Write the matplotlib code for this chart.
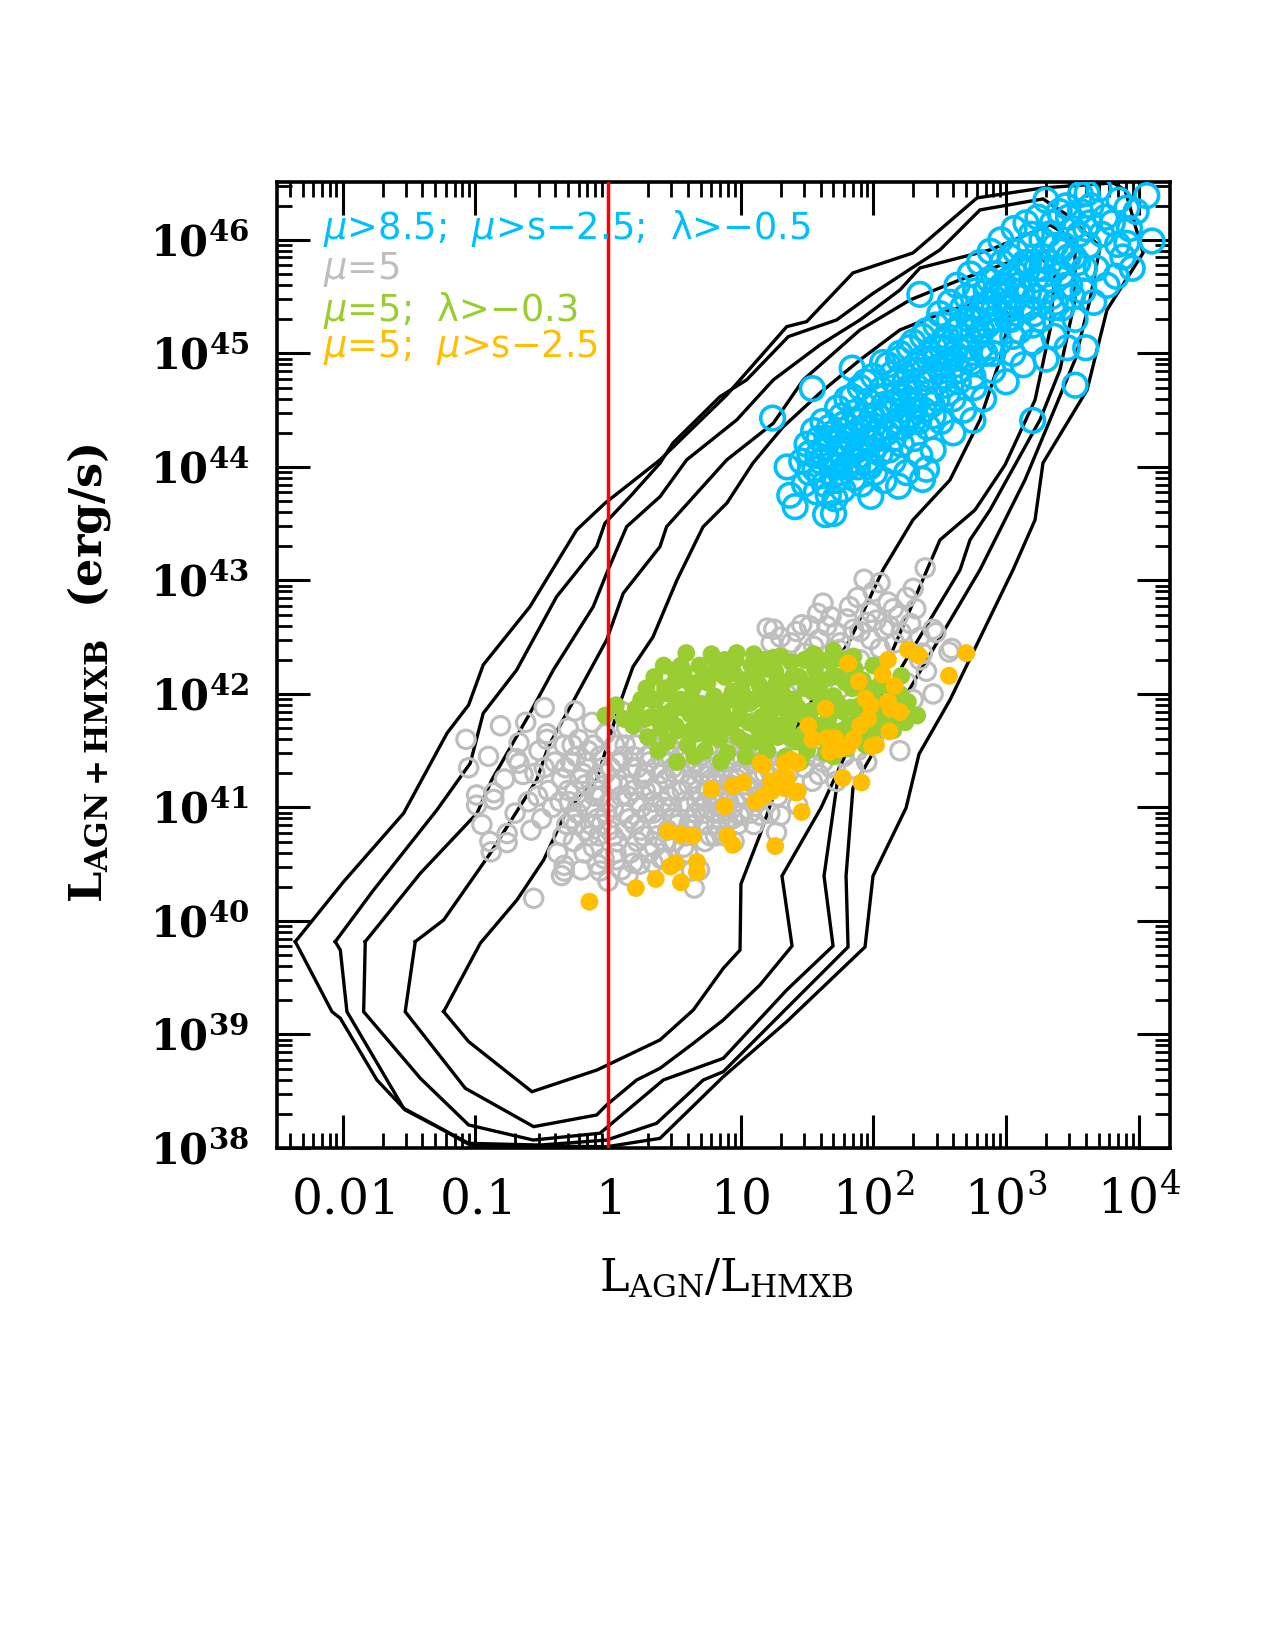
import numpy as np
import matplotlib
matplotlib.use('Agg')
import matplotlib.pyplot as plt
from matplotlib.ticker import FixedLocator, FixedFormatter, LogLocator, NullFormatter

plt.rcParams['mathtext.fontset'] = 'custom'
plt.rcParams['mathtext.rm'] = 'DejaVu Serif'
plt.rcParams['mathtext.it'] = 'DejaVu Sans:italic'
plt.rcParams['mathtext.bf'] = 'DejaVu Serif:bold'
plt.rcParams['mathtext.sf'] = 'DejaVu Sans'

# ---------------- data (log10 values) ----------------
C1 = [(-2.356,39.818),(-1.992,40.346),(-1.540,40.949),(-1.213,41.654),(-1.050,41.903),(-0.940,42.256),
      (-0.588,42.769),(-0.236,43.445),(-0.023,43.680),(0.392,44.062),(0.895,44.634),(1.347,45.236),
      (1.497,45.280),(1.846,45.709),(2.298,45.885),(2.781,46.370),(3.278,46.458),(3.806,46.502),
      (3.896,46.441),(4.032,45.885),(3.760,45.383),(3.610,44.678),(3.278,44.035),(3.218,43.533),
      (3.052,43.093),(2.577,41.947),(2.344,41.471),(2.246,40.996),(1.997,40.396),(1.937,39.771),
      (1.347,39.113),(0.869,38.628),(0.392,38.085),(-0.010,38.011),(-1.038,38.026),(-1.289,38.188),
      (-1.528,38.335),(-1.741,38.599),(-2.017,39.143),(-2.080,39.201)]
C2 = [(-2.055,39.818),(-1.766,40.273),(-1.289,40.978),(-1.038,41.389),(-0.940,41.830),(-0.688,42.211),
      (-0.387,42.857),(-0.085,43.298),(-0.023,43.504),(0.166,43.738),(0.392,44.033),(0.490,44.211),
      (0.844,44.619),(1.045,44.767),(1.359,45.148),(1.723,45.295),(1.999,45.530),(2.326,45.780),
      (2.502,45.912),(2.803,46.264),(3.278,46.361),(3.459,46.220),(3.708,45.938),(3.632,45.471),
      (3.519,44.943),(3.331,44.414),(3.142,43.885),(2.954,43.445),(2.803,43.093),(2.313,42.123),
      (1.846,41.172),(1.794,40.396),(1.809,39.771),(1.321,39.201),(0.869,38.672),(0.718,38.599),
      (0.367,38.218),(-0.010,38.070),(-0.512,38.026),(-1.050,38.041),(-1.540,38.350),(-1.967,39.201),
      (-2.017,39.744)]
C3 = [(-1.829,39.818),(-1.414,40.420),(-0.987,40.949),(-0.876,41.242),(-0.588,41.830),(-0.412,42.211),
      (-0.111,42.769),(-0.010,43.063),(0.141,43.474),(0.392,43.738),(0.593,44.062),(0.970,44.414),
      (1.246,44.767),(1.598,45.075),(1.899,45.295),(2.200,45.559),(2.351,45.753),(2.879,45.912),
      (3.331,46.132),(3.519,46.000),(3.519,45.471),(3.406,44.855),(3.255,44.414),(2.879,43.621),
      (2.728,43.357),(2.653,43.093),(2.200,42.211),(1.756,41.454),(1.628,40.396),(1.696,39.780),
      (1.347,39.392),(0.869,38.790),(0.417,38.599),(-0.060,38.130),(-0.563,38.070),(-1.050,38.203),
      (-1.414,38.614),(-1.841,39.201)]
C4 = [(-1.452,39.818),(-1.238,40.009),(-0.887,40.596),(-0.537,41.242),(-0.450,41.536),(-0.284,41.888),
      (-0.010,42.476),(0.115,42.887),(0.392,43.298),(0.442,43.474),(0.895,44.062),(1.246,44.385),
      (1.472,44.767),(1.899,45.207),(2.276,45.471),(2.653,45.648),(3.029,45.806),(3.255,45.868),
      (3.368,45.692),(3.331,45.207),(3.218,44.590),(2.992,44.018),(2.766,43.621),(2.502,43.357),
      (2.404,43.093),(2.050,42.123),(1.605,40.996),(1.311,40.396),(1.387,39.780),(1.145,39.436),
      (0.869,39.128),(0.643,38.922),(0.392,38.702),(0.216,38.599),(-0.010,38.379),(-0.085,38.291),
      (-0.560,38.188),(-1.075,38.526),(-1.528,39.201)]
C5 = [(-1.238,39.201),(-0.962,39.804),(-0.686,40.185),(-0.485,40.537),(-0.309,40.978),(-0.085,41.242),
      (0.090,41.918),(0.188,42.238),(0.339,42.502),(0.520,43.004),(0.716,43.471),(0.897,43.683),
      (1.093,44.035),(1.319,44.352),(1.598,44.652),(1.899,44.943),(2.200,45.207),(2.577,45.383),
      (2.879,45.471),(3.029,45.339),(2.954,44.943),(2.803,44.414),(2.577,43.885),(2.298,43.533),
      (2.072,43.093),(1.824,42.476),(1.447,41.771),(1.145,40.758),(1.002,40.326),(0.995,39.744),
      (0.869,39.583),(0.643,39.216),(0.392,38.952),(-0.083,38.687),(-0.573,38.496),(-1.050,38.937)]

blue_pts = [(1.24,44.43),(1.35,44.00),(1.37,43.75),(1.41,43.65),(1.54,44.69),(1.64,43.58),(1.70,43.59),
    (1.98,43.74),(2.19,43.83),(2.37,43.89),(2.40,43.98),(2.75,44.41),(3.20,44.41),(3.52,44.72),(2.35,45.52),
    (1.84,44.87),(3.56,46.40),(3.61,46.41),(3.83,45.68),(3.84,45.96),(3.91,45.97),(3.91,46.28),(4.06,46.39),
    (4.10,45.99),(3.70,46.45),(3.45,46.30),(3.30,46.35),(3.75,46.20),(3.60,46.10),(3.95,45.75),
    (1.46,44.05),(1.48,43.85),(1.50,44.20),(1.52,43.95),(1.55,44.32),(1.57,43.78),(1.58,44.10),(1.60,43.92),
    (1.62,44.40),(1.64,44.18),(1.66,43.75),(1.68,44.02),(1.70,44.30),(1.72,43.88),(1.73,44.52),(1.75,44.12),
    (1.77,43.80),(1.78,44.38),(1.80,44.60),(1.81,44.00),(1.83,44.25),(1.85,43.90),(1.86,44.48),(1.88,44.15),
    (1.90,44.70),(1.91,43.85),(1.93,44.35),(1.95,44.05),(1.96,44.58),(1.98,44.22),(2.00,44.80),(2.01,43.95),
    (2.03,44.45),(2.05,44.12),(2.06,44.68),(2.08,43.88),(2.10,44.30),(2.11,44.90),(2.13,44.55),(2.15,44.05),
    (2.16,44.75),(2.18,44.40),(2.20,45.00),(2.21,44.20),(2.23,44.62),(2.25,43.95),(2.26,44.85),(2.28,44.45),
    (2.30,45.10),(2.31,44.25),(2.33,44.70),(2.35,44.10),(2.36,44.95),(2.38,44.50),(2.40,45.20),(2.41,44.35),
    (2.43,44.80),(2.45,44.15),(2.46,45.05),(2.48,44.60),(2.50,45.35),(2.51,44.40),(2.53,44.90),(2.55,45.15),
    (2.56,44.65),(2.58,45.45),(2.60,44.30),(2.61,45.00),(2.63,45.60),(2.64,44.75),(2.66,45.25),(2.68,44.50),
    (2.70,45.50),(2.71,44.95),(2.73,45.70),(2.75,45.20),(2.76,44.70),(2.78,45.40),(2.80,45.80),(2.81,45.05),
    (2.83,44.60),(2.85,45.55),(2.86,45.25),(2.88,45.90),(2.90,44.85),(2.91,45.40),(2.93,45.70),(2.95,45.10),
    (2.96,46.00),(2.98,45.55),(3.00,44.75),(3.01,45.30),(3.03,45.85),(3.05,45.00),(3.06,46.10),(3.08,45.50),
    (3.10,45.20),(3.11,45.75),(3.13,44.90),(3.15,46.15),(3.16,45.40),(3.18,45.95),(3.20,45.10),(3.22,45.65),
    (3.24,46.20),(3.26,45.30),(3.28,45.85),(3.30,44.95),(3.32,46.05),(3.34,45.50),(3.36,45.15),(3.38,45.75),
    (3.40,46.25),(3.42,45.40),(3.44,45.95),(3.46,45.05),(3.48,45.60),(3.50,46.10),(3.52,45.30),(3.54,45.80),
    (3.56,46.25),(3.58,45.55),(3.60,45.05),(3.62,45.95),(3.64,46.30),(3.66,45.45),(3.68,45.75),(3.72,46.05),
    (3.76,45.60),(3.80,46.15),(3.85,46.35),(3.88,45.85),(3.93,46.10),(3.98,46.25),
    (1.52,44.12),(1.56,43.98),(1.59,44.25),(1.63,43.85),(1.67,44.35),(1.69,44.10),(1.71,43.72),(1.74,44.22),
    (1.76,44.45),(1.79,44.00),(1.82,44.35),(1.84,44.62),(1.87,44.05),(1.89,44.40),(1.92,44.18),(1.94,44.75),
    (1.97,44.00),(1.99,44.45),(2.02,44.62),(2.04,44.25),(2.07,44.92),(2.09,44.50),(2.12,44.15),(2.14,44.82),
    (2.17,44.58),(2.19,44.95),(2.22,44.35),(2.24,44.75),(2.27,45.05),(2.29,44.58),(2.32,44.90),(2.34,44.40),
    (2.37,45.15),(2.39,44.78),(2.42,45.00),(2.44,44.55),(2.47,45.25),(2.49,44.88),(2.52,45.10),(2.54,44.72),
    (2.57,45.30),(2.59,44.95),(2.62,45.20),(2.65,44.85),(2.67,45.40),(2.69,45.05),(2.72,45.30),(2.74,44.92),
    (2.77,45.55),(2.79,45.15),(2.82,45.40),(2.84,45.00),(2.87,45.65),(2.89,45.30),(2.92,45.55),(2.94,45.20),
    (2.97,45.80),(2.99,45.40),(3.02,45.65),(3.04,45.30),(3.07,45.90),(3.09,45.60),(3.12,45.40),(3.14,45.80),
    (3.17,45.55),(3.19,46.05),(3.21,45.35),(3.23,45.75),(3.27,46.00),(3.29,45.55),(3.33,45.80),(3.35,46.15),
    (3.37,45.45),(3.41,45.90),(3.45,45.60),(3.47,46.20),(3.51,45.85),(3.55,46.05),(3.59,45.75),(3.63,46.15),
    (1.60,44.05),(1.65,44.25),(1.72,44.00),(1.78,44.20),(1.85,44.30),(1.90,44.10),(1.96,44.35),(2.02,44.30),
    (2.08,44.55),(2.12,44.35),(2.18,44.65),(2.22,44.50),(2.27,44.70),(2.32,44.55),(2.38,44.85),(2.42,44.65),
    (2.47,44.95),(2.52,44.80),(2.57,45.05),(2.62,44.90),(2.67,45.15),(2.72,45.05),(2.77,45.30),(2.82,45.20),
    (2.87,45.45),(2.92,45.30),(2.97,45.60),(3.02,45.45),(3.07,45.70),(3.12,45.55),(3.17,45.80),(3.22,45.50),
    (3.27,45.75),(3.32,45.65),(3.37,45.95),(3.42,45.70),(3.47,45.85),(1.75,43.95),(1.88,44.00),(2.00,44.15),
    (2.15,44.25),(2.30,44.40),(2.45,44.45),(2.60,44.60),(2.75,44.80),(2.90,45.00),(3.05,45.15),(3.20,45.25),
    (3.35,45.40),(3.50,45.50)]

gray_pts = [(-1.07,41.60),(-0.99,41.02),(-0.86,41.07),(-0.81,41.72),(-0.67,41.57),(-0.48,41.88),(-0.46,41.60),
    (-0.88,40.61),(-0.76,40.69),(-0.56,40.20),(-0.33,40.44),(-0.67,41.39),(-0.99,41.11),(-0.86,41.13),
    (-0.89,40.70),(-0.76,40.77),(-0.69,41.43),(-0.64,41.29),(-0.33,40.49),(-0.46,41.65),(-0.95,40.85),
    (-1.05,41.35),(-0.90,41.45),(-0.70,40.95),(-0.60,41.05),(-0.55,41.30),(-0.50,40.90),(-0.45,41.15),
    (-0.40,41.40),(-0.58,40.80),(-0.52,41.50),(-0.62,41.75),(-0.78,41.25),
    (-0.38,40.60),(-0.36,41.05),(-0.35,41.25),(-0.33,41.55),(-0.31,40.85),(-0.30,41.70),(-0.28,41.40),
    (-0.26,40.70),(-0.25,41.15),(-0.23,40.95),(-0.22,41.60),(-0.20,40.45),(-0.19,41.30),(-0.17,40.80),
    (-0.15,41.50),(-0.14,41.00),(-0.12,41.75),(-0.11,40.65),(-0.09,41.25),(-0.08,40.90),(-0.06,41.45),
    (-0.05,41.10),(-0.03,40.55),(-0.02,41.65),(0.00,40.35),(0.01,40.80),(0.02,41.35),(0.04,41.00),
    (0.05,41.55),(0.07,40.70),(0.08,41.20),(0.10,40.45),(0.11,41.45),(0.12,40.95),(0.14,41.70),(0.15,41.10),
    (0.17,40.60),(0.18,41.35),(0.20,40.85),(0.21,41.55),(0.23,41.05),(0.24,40.50),(0.26,41.25),(0.27,40.75),
    (0.29,41.45),(0.30,40.95),(0.32,41.65),(0.33,41.15),(0.35,40.65),(0.36,41.35),(0.38,40.85),(0.39,41.55),
    (0.41,41.05),(0.42,40.55),(0.44,41.25),(0.45,40.80),(0.47,41.45),(0.48,41.00),(0.50,40.70),(0.51,41.30),
    (0.53,41.60),(0.54,40.90),(0.56,41.15),(0.57,40.65),(0.59,41.40),(0.60,41.00),(0.62,40.80),(0.63,41.25),
    (0.65,41.55),(0.66,40.95),(0.68,41.15),(0.69,40.45),(0.71,41.35),(0.72,40.85),(0.74,41.05),(0.75,41.50),
    (0.77,40.75),(0.78,41.25),(0.80,40.95),(0.81,41.40),(0.83,41.10),(0.84,40.80),(0.86,41.30),(0.87,41.00),
    (0.89,41.50),(0.90,40.90),(0.92,41.20),(0.94,41.40),(0.96,41.05),(0.98,40.85),(1.00,41.30),(1.02,41.10),
    (1.05,41.45),(1.07,40.95),(1.10,41.25),(1.13,41.05),(1.16,41.40),(1.19,41.15),(1.22,40.95),(1.25,41.30),
    (1.28,41.10),
    (-0.34,40.75),(-0.32,41.35),(-0.29,41.05),(-0.27,41.55),(-0.24,40.85),(-0.21,41.25),(-0.18,40.60),
    (-0.16,41.40),(-0.13,40.85),(-0.10,41.10),(-0.07,40.75),(-0.04,41.35),(-0.01,40.95),(0.03,41.20),
    (0.06,40.60),(0.09,41.40),(0.13,40.80),(0.16,41.20),(0.19,41.45),(0.22,40.70),(0.25,41.00),(0.28,41.30),
    (0.31,40.60),(0.34,40.95),(0.37,41.20),(0.40,41.45),(0.43,40.70),(0.46,41.10),(0.49,41.35),(0.52,40.85),
    (0.55,41.30),(0.58,40.75),(0.61,41.20),(0.64,40.90),(0.67,41.40),(0.70,41.00),(0.73,40.70),(0.76,41.15),
    (0.79,41.50),(0.82,40.85),(0.85,41.20),(0.88,40.75),(0.91,41.05),(0.93,41.55),(0.97,41.25),(1.01,40.95),
    (1.04,41.20),(1.08,41.40),(1.12,41.15),(1.18,41.30),(-0.42,41.00),(-0.48,41.35),(-0.53,41.10),
    (-0.35,40.40),(0.15,40.40),(0.40,40.55),(0.60,40.60),(-0.08,40.50),(0.95,40.70),(1.10,40.85),
    (-0.30,41.15),(-0.27,40.90),(-0.24,41.45),(-0.20,41.05),(-0.17,41.20),(-0.14,40.75),(-0.11,41.55),
    (-0.08,41.15),(-0.05,40.85),(-0.02,41.30),(0.01,41.05),(0.04,40.75),(0.07,41.40),(0.10,41.10),
    (0.13,41.55),(0.16,40.90),(0.19,41.15),(0.22,41.35),(0.25,40.80),(0.28,41.15),(0.31,41.40),(0.34,41.05),
    (0.37,40.75),(0.40,41.30),(0.43,41.00),(0.46,41.55),(0.49,40.90),(0.52,41.15),(0.55,41.45),(0.58,41.05),
    (0.61,40.85),(0.64,41.35),(0.67,41.05),(0.70,41.30),(0.73,40.95),(0.76,41.35),(0.79,41.05),(0.82,41.25),
    (0.85,40.95),(0.88,41.40),(0.91,41.15),(0.94,40.90),(0.97,41.45),(1.00,41.10),(1.03,41.35),(1.06,41.15),
    (1.09,41.50),(1.12,41.30),(1.15,41.10),(1.20,41.45),(1.24,41.20),(1.30,41.40),(1.36,41.30),(1.42,41.45),
    (1.48,41.35),(1.55,41.45),(1.62,41.40),(1.68,41.35),(1.78,41.45),(1.88,41.50),
    (0.65,40.29),(0.63,40.44),(0.19,40.51),(0.34,40.51),(0.06,40.54),(-0.06,40.44),(0.81,40.75),(0.99,40.93),
    (1.15,40.93),(1.30,40.93),(1.43,41.02),(1.54,41.23),(1.59,41.29),(1.72,41.23),(1.85,41.34),(1.33,41.23),
    (1.27,40.78),
    (1.93,43.01),(2.39,43.11),(2.30,42.93),(2.47,42.54),(2.57,42.37),(1.82,42.77),(1.58,42.71),(1.46,42.61),
    (1.20,42.58),(1.23,42.45),(2.11,42.81),(1.98,42.72),(2.19,42.69),(2.08,42.57),(1.85,42.57),(1.72,42.54),
    (1.59,42.48),(1.38,42.45),(1.48,42.36),(1.74,42.39),(2.32,42.75),(2.45,42.57),(2.21,42.54),(1.95,42.63),
    (2.16,42.45),(2.37,42.36),(1.25,42.57),(1.80,42.66),(2.25,42.85),(2.00,42.90),(1.65,42.60),(2.05,42.40),
    (2.40,42.20),(2.59,42.40),
    (1.30,42.50),(1.42,42.55),(1.52,42.60),(1.68,42.68),(1.75,42.45),(1.90,42.55),(2.02,42.65),(2.12,42.60),
    (2.28,42.62),(2.35,42.50),(1.55,42.42),(1.98,42.48),(2.15,42.75),(1.88,42.85),(2.05,42.98),(1.62,42.80),
    (0.45,41.70),(0.85,41.65),(1.30,41.55),(1.10,41.75),(1.40,41.60),(1.60,41.50),(1.70,41.75),(2.00,41.60),
    (2.10,41.75),(1.35,41.90),(1.75,42.05),(2.25,42.10),(1.45,42.10),(0.95,42.00),(0.70,41.90),(1.90,42.30),
    (2.35,42.30),(1.60,42.25),(-0.25,41.85),(0.10,41.85),(2.30,41.95),(2.45,42.00),(1.95,41.40),(2.20,41.50)]

green_pts = [(0.59,42.36),(0.97,42.36),(1.30,42.33),(-0.02,41.81),(0.06,41.90),(0.29,42.05),(0.50,42.21),
    (2.33,41.81),(2.21,42.16),(2.26,41.93),(1.85,42.33),(0.19,41.72),(0.21,41.87),(2.05,41.72),(2.15,41.68),
    (0.12,41.78),(0.35,42.15),(0.42,42.25),(0.78,42.35),(1.10,42.35),(1.55,42.35),(1.70,42.38),(2.00,42.25),
    (0.30,41.62),(0.33,41.80),(0.36,41.95),(0.40,41.70),(0.43,42.05),(0.45,41.58),(0.48,41.85),(0.50,42.10),
    (0.53,41.68),(0.55,41.95),(0.57,42.20),(0.60,41.55),(0.62,41.82),(0.64,42.05),(0.67,41.65),(0.69,42.25),
    (0.71,41.90),(0.73,41.50),(0.75,42.10),(0.78,41.75),(0.80,41.98),(0.82,42.28),(0.84,41.60),(0.86,41.85),
    (0.88,42.15),(0.90,41.48),(0.92,41.72),(0.94,42.02),(0.96,42.30),(0.98,41.62),(1.00,41.88),(1.02,42.12),
    (1.04,41.45),(1.06,41.75),(1.08,42.25),(1.10,41.95),(1.12,41.58),(1.14,42.08),(1.16,41.80),(1.18,42.30),
    (1.20,41.50),(1.22,41.70),(1.24,42.00),(1.26,42.20),(1.28,41.62),(1.30,41.88),(1.32,42.10),(1.34,41.45),
    (1.36,41.75),(1.38,42.28),(1.40,41.95),(1.42,41.58),(1.44,42.15),(1.46,41.82),(1.48,42.30),(1.50,41.50),
    (1.52,41.70),(1.54,42.02),(1.56,42.22),(1.58,41.62),(1.60,41.90),(1.62,42.12),(1.64,41.48),(1.66,41.78),
    (1.68,42.28),(1.70,41.98),(1.72,41.60),(1.74,42.15),(1.76,41.85),(1.78,42.30),(1.80,41.52),(1.82,41.72),
    (1.84,42.05),(1.86,42.22),(1.88,41.65),(1.90,41.90),(1.92,42.12),(1.94,41.55),(1.96,41.80),(1.98,42.02),
    (2.00,41.68),(2.03,41.92),(2.06,42.10),(2.09,41.78),(2.12,41.95),(2.16,41.85),(2.20,42.00),(2.24,41.75),
    (0.25,41.95),(0.38,41.50),(0.65,41.45),(0.85,41.40),(1.15,41.40),(1.45,41.40),(1.70,41.45),(0.52,41.40),
    (0.95,42.18),(1.25,42.32),(1.60,42.30),(0.70,41.75),(1.05,41.95),(1.35,41.85),(1.65,41.95),
    (0.42,41.82),(0.46,42.00),(0.51,41.72),(0.56,41.88),(0.59,42.12),(0.63,41.68),(0.66,41.92),(0.70,42.12),
    (0.74,41.85),(0.77,41.62),(0.79,42.18),(0.83,41.92),(0.87,41.70),(0.91,41.95),(0.93,42.20),(0.97,41.78),
    (1.01,42.02),(1.03,41.58),(1.07,41.92),(1.11,42.15),(1.13,41.70),(1.17,41.95),(1.19,41.62),(1.23,41.85),
    (1.27,42.10),(1.29,41.72),(1.33,41.98),(1.37,41.62),(1.39,42.15),(1.43,41.88),(1.47,41.65),(1.49,42.05),
    (1.53,41.85),(1.57,42.12),(1.59,41.72),(1.63,41.98),(1.67,41.70),(1.69,42.15),(1.73,41.92),(1.77,41.68),
    (1.79,42.10),(1.83,41.88),(1.87,41.75),(1.89,42.08),(1.93,41.90),(1.97,41.65),(2.01,42.05),(2.07,41.85),
    (2.11,42.05),(2.18,41.80),(0.33,41.95),(0.28,41.78),(0.55,42.25),(0.88,42.30),(1.20,42.22)]

orange_pts = [(-0.14,40.17),(0.21,40.29),(0.36,40.37),(0.55,40.34),(0.47,40.48),(0.51,40.51),(0.67,40.52),
    (0.67,40.43),(0.45,40.79),(0.55,40.76),(0.64,40.75),(0.78,41.16),(0.88,41.01),(0.94,41.19),(1.02,41.22),
    (1.11,41.05),(1.17,41.10),(1.17,41.37),(1.23,41.23),(1.30,41.26),(1.35,41.26),(1.43,41.39),(1.42,41.13),
    (1.46,40.96),(1.26,40.66),(0.94,40.67),(0.90,40.75),(1.51,41.72),(1.54,41.60),(1.64,41.87),(1.71,41.61),
    (1.67,41.49),(1.74,41.51),(1.81,41.54),(1.85,41.60),(1.90,41.72),(1.96,41.78),(2.02,41.55),(1.99,41.54),
    (1.77,41.26),(1.91,41.22),(1.81,42.27),(1.89,42.11),(1.94,41.96),(1.98,41.90),(2.07,42.17),(2.11,42.30),
    (2.12,41.67),(2.16,42.07),(2.11,41.93),(2.13,41.87),(2.20,41.84),(2.26,42.39),(2.34,42.34),(2.57,42.16),
    (2.70,42.36),(1.65,41.61),(1.33,41.39),(1.38,41.42),(1.15,41.39),(1.33,41.17),(1.23,41.14),(1.43,41.14)]

x_tick_exp = [-2, -1, 0, 1, 2, 3, 4]
x_tick_labels = ['$0.01$', '$0.1$', '$1$', '$10$', '$10^{2}$', '$10^{3}$', '$10^{4}$']
y_tick_exp = [38, 39, 40, 41, 42, 43, 44, 45, 46]

legend_lines = [r'$\mu$>8.5;  $\mu$>s−2.5;  λ>−0.5', r'$\mu$=5', r'$\mu$=5;  λ>−0.3', r'$\mu$=5;  $\mu$>s−2.5']
legend_colors = ['#00BFFF', '#BEBEBE', '#9ACD32', '#FFBF00']

# ---------------- figure ----------------
fig = plt.figure(figsize=(12.75, 16.5), dpi=100)
ax = fig.add_axes([277/1275, 1-1148/1650, 893/1275, 966/1650])
ax.set_xscale('log')
ax.set_yscale('log')

for c in [C1, C2, C3, C4, C5]:
    arr = np.array(c + [c[0]])
    ax.plot(10**arr[:, 0], 10**arr[:, 1], color='black', lw=2.4, zorder=2,
            solid_joinstyle='miter')

def unz(p):
    a = np.array(p)
    return 10**a[:, 0], 10**a[:, 1]

gx, gy = unz(gray_pts)
ax.scatter(gx, gy, s=175, facecolors='none', edgecolors='#BEBEBE', linewidths=2.3, zorder=3)
grx, gry = unz(green_pts)
ax.scatter(grx, gry, s=165, color='#9ACD32', edgecolors='none', zorder=4)
ox, oy = unz(orange_pts)
ax.scatter(ox, oy, s=165, color='#FFBF00', edgecolors='none', zorder=5)
bx, by = unz(blue_pts)
ax.scatter(bx, by, s=290, facecolors='none', edgecolors='#00BFFF', linewidths=2.6, zorder=3)

ax.axvline(1.0, color='#FF0000', lw=2.5, zorder=6)

ax.set_xlim(10**-2.494, 10**4.235)
ax.set_ylim(1e38, 10**46.51)

ax.xaxis.set_major_locator(FixedLocator([10.0**e for e in x_tick_exp]))
ax.xaxis.set_major_formatter(FixedFormatter(x_tick_labels))
ax.xaxis.set_minor_locator(LogLocator(base=10, subs=np.arange(2, 10), numticks=50))
ax.xaxis.set_minor_formatter(NullFormatter())
ax.yaxis.set_major_locator(FixedLocator([10.0**e for e in y_tick_exp]))
ax.yaxis.set_major_formatter(FixedFormatter([r'$\mathbf{10^{%d}}$' % e for e in y_tick_exp]))
ax.yaxis.set_minor_locator(LogLocator(base=10, subs=np.arange(2, 10), numticks=50))
ax.yaxis.set_minor_formatter(NullFormatter())

ax.tick_params(which='major', direction='in', length=24, width=2.2, top=True, right=True)
ax.tick_params(which='minor', direction='in', length=11, width=2.0, top=True, right=True)
ax.tick_params(axis='x', which='major', labelsize=35, pad=20)
ax.tick_params(axis='y', which='major', labelsize=30, pad=20)
for sp in ax.spines.values():
    sp.set_linewidth(2.6)

for i, (t, c) in enumerate(zip(legend_lines, legend_colors)):
    ax.text(0.0515, [0.952, 0.909, 0.867, 0.829][i], t, transform=ax.transAxes, color=c,
            fontsize=26.5, family='DejaVu Sans', va='center', ha='left', zorder=7)

fig.text(89/1275, 1-673/1650, r'$\mathbf{L_{AGN+HMXB}}$  (erg/s)', rotation=90,
         fontsize=32, family='DejaVu Serif', weight='bold', ha='center', va='center')
fig.text(726/1275, 1-1278/1650, r'$\mathrm{L_{AGN}/L_{HMXB}}$', fontsize=32,
         ha='center', va='center')

fig.savefig('out.png', dpi=100)
